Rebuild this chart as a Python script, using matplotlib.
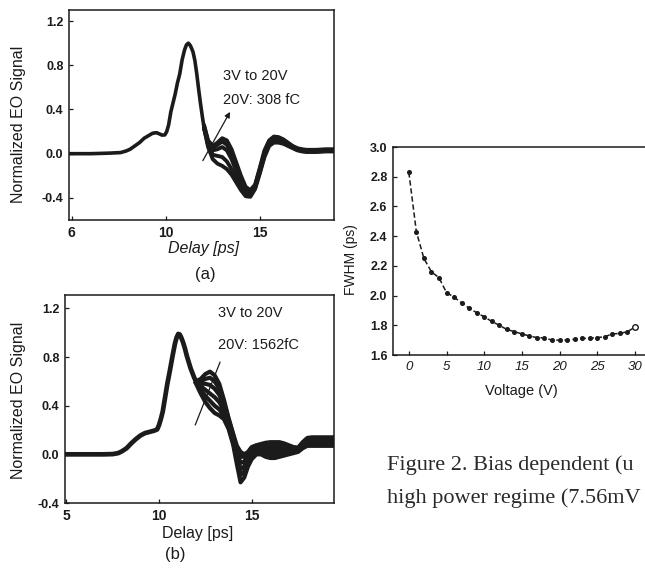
import matplotlib
matplotlib.use("Agg")
import matplotlib.pyplot as plt

plt.rcParams['font.family'] = ['Liberation Sans', 'DejaVu Sans']

# ---------------- panel (a) data ----------------
a_delay_common = [4.85, 6.0, 7.0, 7.6, 7.9, 8.1, 8.35, 8.6, 8.85, 9.05, 9.3, 9.5,
                  9.65, 9.8, 9.95, 10.05, 10.15, 10.27, 10.4, 10.5, 10.62, 10.74,
                  10.87, 11.0, 11.1, 11.2, 11.3, 11.38, 11.45, 11.55, 11.65, 11.75,
                  11.85, 11.95, 12.05]
a_signal_common = [0.0, 0.0, 0.005, 0.01, 0.025, 0.04, 0.07, 0.10, 0.14, 0.16,
                   0.185, 0.19, 0.18, 0.168, 0.17, 0.2, 0.26, 0.38, 0.47, 0.54,
                   0.64, 0.72, 0.85, 0.94, 0.985, 1.0, 0.98, 0.95, 0.92, 0.84,
                   0.72, 0.58, 0.45, 0.33, 0.22]
a_delay_bundle = [12.05, 12.25, 12.5, 12.75, 13.0, 13.25, 13.5, 13.75, 14.0, 14.25,
                  14.5, 14.75, 15.0, 15.25, 15.5, 15.75, 16.0, 16.25, 16.5, 16.75,
                  17.0, 17.25, 17.5, 18.0, 18.5, 19.0]
a_3V = [0.22, 0.06, -0.05, -0.09, -0.11, -0.14, -0.19, -0.26, -0.33, -0.385, -0.39,
        -0.32, -0.18, -0.03, 0.07, 0.10, 0.10, 0.09, 0.07, 0.05, 0.03, 0.02, 0.015,
        0.015, 0.02, 0.02]
a_7V = [0.22, 0.08, -0.01, -0.02, -0.03, -0.07, -0.14, -0.23, -0.31, -0.37, -0.375,
        -0.31, -0.17, -0.02, 0.08, 0.115, 0.115, 0.10, 0.08, 0.055, 0.035, 0.025,
        0.02, 0.02, 0.025, 0.025]
a_12V = [0.23, 0.10, 0.03, 0.04, 0.06, 0.03, -0.05, -0.16, -0.27, -0.35, -0.355,
         -0.30, -0.155, -0.005, 0.095, 0.13, 0.13, 0.11, 0.085, 0.06, 0.04, 0.03,
         0.025, 0.025, 0.03, 0.03]
a_16V = [0.24, 0.11, 0.05, 0.08, 0.11, 0.08, 0.0, -0.11, -0.23, -0.33, -0.34, -0.29,
         -0.14, 0.01, 0.11, 0.145, 0.14, 0.12, 0.095, 0.065, 0.045, 0.035, 0.03,
         0.03, 0.035, 0.035]
a_20V = [0.25, 0.12, 0.07, 0.10, 0.14, 0.12, 0.04, -0.08, -0.20, -0.30, -0.33, -0.28,
         -0.13, 0.03, 0.12, 0.155, 0.15, 0.13, 0.10, 0.07, 0.05, 0.04, 0.035, 0.035,
         0.04, 0.04]
a_curves = [a_3V, a_7V, a_12V, a_16V, a_20V]
a_xticks = [5, 10, 15]
a_xticklabels = ["6", "10", "15"]

# ---------------- panel (b) data ----------------
b_delay_common = [4.93, 6.0, 7.0, 7.5, 7.8, 8.0, 8.25, 8.5, 8.75, 9.0, 9.25, 9.5,
                  9.75, 9.9, 10.0, 10.1, 10.2, 10.32, 10.45, 10.59, 10.72, 10.86,
                  10.95, 11.04, 11.12, 11.2, 11.3, 11.4, 11.5, 11.6, 11.7, 11.8,
                  11.9, 12.0]
b_signal_common = [0.0, 0.0, 0.0, 0.002, 0.01, 0.025, 0.05, 0.09, 0.125, 0.155,
                   0.175, 0.185, 0.195, 0.205, 0.24, 0.29, 0.35, 0.46, 0.58, 0.69,
                   0.80, 0.91, 0.96, 0.99, 0.985, 0.96, 0.92, 0.87, 0.81, 0.76,
                   0.71, 0.67, 0.63, 0.60]
b_delay_bundle = [12.0, 12.25, 12.5, 12.75, 13.0, 13.25, 13.5, 13.75, 14.0, 14.2,
                  14.4, 14.6, 14.8, 15.0, 15.25, 15.5, 15.75, 16.0, 16.25, 16.5,
                  16.75, 17.0, 17.25, 17.5, 17.75, 18.0, 18.25, 18.5, 19.0, 19.45]
b_3V = [0.58, 0.50, 0.43, 0.38, 0.34, 0.32, 0.29, 0.21, 0.08, -0.08, -0.23, -0.19,
        -0.10, -0.04, 0.0, 0.0, -0.02, -0.03, -0.03, -0.02, -0.01, 0.0, 0.01, 0.02,
        0.05, 0.07, 0.07, 0.07, 0.07, 0.07]
b_6V = [0.59, 0.53, 0.48, 0.44, 0.40, 0.37, 0.32, 0.23, 0.10, -0.05, -0.17, -0.14,
        -0.07, -0.02, 0.01, 0.02, 0.0, -0.01, -0.01, 0.0, 0.005, 0.015, 0.02, 0.025,
        0.06, 0.085, 0.09, 0.09, 0.09, 0.09]
b_9V = [0.59, 0.56, 0.53, 0.50, 0.47, 0.43, 0.36, 0.25, 0.12, -0.02, -0.12, -0.10,
        -0.04, 0.0, 0.03, 0.04, 0.03, 0.02, 0.02, 0.025, 0.025, 0.03, 0.03, 0.03,
        0.07, 0.10, 0.105, 0.105, 0.105, 0.105]
b_12V = [0.60, 0.58, 0.58, 0.57, 0.54, 0.49, 0.40, 0.27, 0.14, 0.01, -0.07, -0.06,
         -0.01, 0.03, 0.05, 0.06, 0.06, 0.05, 0.05, 0.05, 0.05, 0.045, 0.04, 0.04,
         0.08, 0.115, 0.12, 0.12, 0.12, 0.12]
b_16V = [0.60, 0.60, 0.62, 0.63, 0.60, 0.54, 0.43, 0.29, 0.16, 0.04, -0.02, -0.02,
         0.01, 0.05, 0.065, 0.075, 0.08, 0.075, 0.075, 0.075, 0.07, 0.06, 0.05, 0.05,
         0.09, 0.125, 0.13, 0.13, 0.13, 0.13]
b_20V = [0.60, 0.62, 0.66, 0.68, 0.65, 0.58, 0.45, 0.30, 0.17, 0.07, 0.02, 0.0, 0.02,
         0.06, 0.075, 0.085, 0.095, 0.10, 0.10, 0.10, 0.09, 0.075, 0.06, 0.055, 0.10,
         0.135, 0.14, 0.14, 0.14, 0.14]
b_curves = [b_3V, b_6V, b_9V, b_12V, b_16V, b_20V]
b_xticks = [5, 10, 15]
b_xticklabels = ["5", "10", "15"]

wave_yticks = [-0.4, 0.0, 0.4, 0.8, 1.2]
wave_yticklabels = ["-0.4", "0.0", "0.4", "0.8", "1.2"]

# ---------------- FWHM panel data ----------------
voltage = list(range(0, 31))
fwhm = [2.83, 2.43, 2.25, 2.16, 2.12, 2.02, 1.99, 1.95, 1.915, 1.885, 1.857, 1.826,
        1.80, 1.772, 1.757, 1.742, 1.728, 1.717, 1.715, 1.70, 1.70, 1.70, 1.706,
        1.712, 1.712, 1.717, 1.723, 1.742, 1.745, 1.757, 1.787]
fwhm_xticks = [0, 5, 10, 15, 20, 25, 30]
fwhm_yticks = [1.6, 1.8, 2.0, 2.2, 2.4, 2.6, 2.8, 3.0]

ink = '#1b1b1b'
W, H = 645, 571
fig = plt.figure(figsize=(W / 100, H / 100), dpi=100)
fig.patch.set_facecolor('white')


def box(l, t, r, b):
    return [l / W, 1 - b / H, (r - l) / W, (b - t) / H]


def style_axes(ax):
    for s in ax.spines.values():
        s.set_linewidth(1.1)
        s.set_color(ink)
    ax.tick_params(direction='in', length=3, width=0.9, colors=ink, pad=4)


# ---- (a)
axA = fig.add_axes(box(69, 10, 334, 220))
axA.plot(a_delay_common, a_signal_common, color=ink, lw=2.6, solid_capstyle='round')
for c in a_curves:
    axA.plot(a_delay_bundle, c, color=ink, lw=2.8, solid_joinstyle='round')
axA.set_xlim(4.85, 18.95)
axA.set_ylim(-0.6, 1.3)
axA.set_xticks(a_xticks)
axA.set_xticklabels(a_xticklabels, fontsize=10, fontweight='bold', color=ink)
axA.set_yticks(wave_yticks)
axA.set_yticklabels(wave_yticklabels, fontsize=9, fontweight='bold', color=ink)
axA.set_ylabel('Normalized EO Signal', fontsize=11.5, color=ink)
axA.yaxis.set_label_coords(-0.162, 0.457)
axA.set_xlabel('Delay [ps]', fontsize=11.5, style='italic', color=ink)
axA.xaxis.set_label_coords(0.506, -0.10)
style_axes(axA)
axA.annotate('', xy=(13.49, 0.40), xytext=(11.9, -0.085),
             arrowprops=dict(arrowstyle='-|>', lw=0.9, color=ink, mutation_scale=8))
axA.text(13.03, 0.70, '3V to 20V', fontsize=10.5, color=ink, va='center')
axA.text(13.03, 0.49, '20V: 308 fC', fontsize=10.5, color=ink, va='center')
fig.text(205 / W, 1 - 274 / H, '(a)', fontsize=12, color=ink, ha='center', va='center')

# ---- (b)
axB = fig.add_axes(box(65, 295, 334, 503))
axB.plot(b_delay_common, b_signal_common, color=ink, lw=3.4, solid_capstyle='round')
for c in b_curves:
    axB.plot(b_delay_bundle, c, color=ink, lw=3.0, solid_joinstyle='round')
axB.set_xlim(4.93, 19.44)
axB.set_ylim(-0.4, 1.31)
axB.set_xticks(b_xticks)
axB.set_xticklabels(b_xticklabels, fontsize=10, fontweight='bold', color=ink)
axB.set_yticks(wave_yticks)
axB.set_yticklabels(wave_yticklabels, fontsize=9, fontweight='bold', color=ink)
axB.set_ylabel('Normalized EO Signal', fontsize=11.5, color=ink)
axB.yaxis.set_label_coords(-0.145, 0.495)
axB.set_xlabel('Delay [ps]', fontsize=11.5, color=ink)
axB.xaxis.set_label_coords(0.494, -0.11)
style_axes(axB)
axB.annotate('', xy=(13.35, 0.78), xytext=(11.9, 0.22),
             arrowprops=dict(arrowstyle='-', lw=0.9, color=ink))
axB.text(13.18, 1.16, '3V to 20V', fontsize=10.5, color=ink, va='center')
axB.text(13.18, 0.90, '20V: 1562fC', fontsize=10.5, color=ink, va='center')
fig.text(175 / W, 1 - 555 / H, '(b)', fontsize=12, color=ink, ha='center', va='center')

# ---- FWHM vs voltage (cropped at the right edge)
axC = fig.add_axes(box(393, 147, 650, 355))
axC.plot(voltage, fwhm, color=ink, lw=1.1, linestyle=(0, (3.5, 1.8)))
axC.plot(voltage[:-1], fwhm[:-1], 'o', color=ink, ms=2.6)
axC.plot(voltage[-1:], fwhm[-1:], 'o', mfc='white', mec=ink, mew=1.0, ms=4)
axC.set_xlim(-2.1, 32)
axC.set_ylim(1.6, 3.0)
axC.set_xticks(fwhm_xticks)
axC.set_xticklabels([str(v) for v in fwhm_xticks], fontsize=9.5, style='italic',
                    color=ink)
axC.set_yticks(fwhm_yticks)
axC.set_yticklabels([f'{v:.1f}' for v in fwhm_yticks], fontsize=9, fontweight='bold',
                    color=ink)
axC.set_ylabel('FWHM (ps)', fontsize=10, color=ink)
axC.yaxis.set_label_coords(-0.136, 0.46)
axC.set_xlabel('Voltage (V)', fontsize=10.5, color=ink)
axC.xaxis.set_label_coords(0.498, -0.14)
style_axes(axC)
axC.spines['right'].set_visible(False)

# ---- caption
serif = ['Liberation Serif', 'DejaVu Serif']
fig.text(387 / W, 1 - 470 / H, 'Figure 2. Bias dependent (u', fontsize=16,
         family=serif, color='#2a2a2a', va='baseline')
fig.text(387 / W, 1 - 503 / H, 'high power regime (7.56mV', fontsize=16,
         family=serif, color='#2a2a2a', va='baseline')

fig.savefig('out.png', dpi=100, facecolor='white')
